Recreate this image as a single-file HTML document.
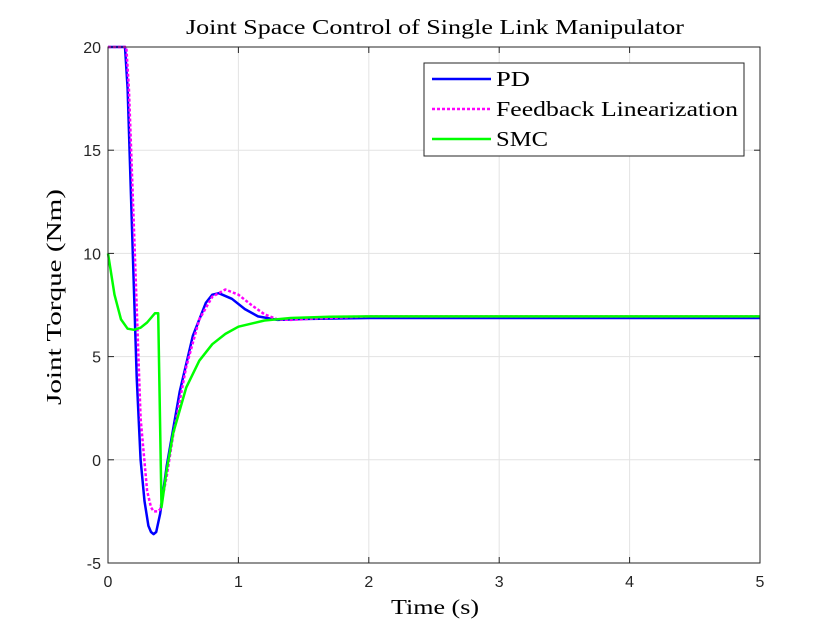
<!DOCTYPE html>
<html><head><meta charset="utf-8"><style>
body{margin:0;background:#fff;}
svg text{font-family:"Liberation Sans",sans-serif;}
.serif{font-family:"Liberation Serif",serif;}
</style></head><body>
<svg id="chart" width="840" height="630" viewBox="0 0 840 630" xmlns="http://www.w3.org/2000/svg">
<rect x="0" y="0" width="840" height="630" fill="#fff"/>
<rect x="108" y="47" width="652" height="516" fill="#fff"/>
<g id="grid"></g>
<g id="series"></g>
<rect x="108" y="47" width="652" height="516" fill="none" stroke="#262626" stroke-width="1"/>
<g id="ticks"></g>
<text class="serif" x="186" y="34" font-size="21" textLength="498" lengthAdjust="spacingAndGlyphs" fill="#000">Joint Space Control of Single Link Manipulator</text>
<text class="serif" x="391" y="614" font-size="21" textLength="88" lengthAdjust="spacingAndGlyphs" fill="#000">Time (s)</text>
<text class="serif" x="0" y="0" font-size="21" textLength="216" lengthAdjust="spacingAndGlyphs" fill="#000" transform="translate(61 405) rotate(-90)">Joint Torque (Nm)</text>
<g>
<rect x="424" y="63" width="320" height="93" fill="#fff" stroke="#262626" stroke-width="1"/>
<line x1="432" y1="79" x2="491" y2="79" stroke="#0000ff" stroke-width="2.5"/>
<text class="serif" x="496" y="86" font-size="21" textLength="34" lengthAdjust="spacingAndGlyphs">PD</text>
<line x1="432" y1="109" x2="491" y2="109" stroke="#ff00ff" stroke-width="2.5" stroke-dasharray="3,2"/>
<text class="serif" x="496" y="116" font-size="21" textLength="242" lengthAdjust="spacingAndGlyphs">Feedback Linearization</text>
<line x1="432" y1="139" x2="491" y2="139" stroke="#00ff00" stroke-width="2.5"/>
<text class="serif" x="496" y="146" font-size="21" textLength="52" lengthAdjust="spacingAndGlyphs">SMC</text>
</g>
</svg>
<script>
const xTicks=[0,1,2,3,4,5];
const yTicks=[-5,0,5,10,15,20];
const pdT=[0,0.13,0.15,0.18,0.2,0.22,0.25,0.28,0.31,0.33,0.35,0.37,0.4,0.45,0.55,0.65,0.75,0.8,0.85,0.95,1.05,1.15,1.3,1.5,2,5];
const pdV=[20,20,18,12,8,4,0,-2,-3.2,-3.5,-3.6,-3.5,-2.6,-0.3,3.3,6,7.6,8,8.07,7.8,7.3,6.95,6.78,6.82,6.87,6.87];
const flT=[0,0.14,0.16,0.2,0.25,0.3,0.33,0.35,0.38,0.4,0.45,0.5,0.6,0.7,0.8,0.9,1,1.1,1.2,1.3,1.4,1.6,2,5];
const flV=[20,20,18,11,2,-1.5,-2.3,-2.5,-2.5,-2.4,-0.8,1.2,4.5,6.8,7.9,8.25,8,7.5,7.05,6.8,6.78,6.85,6.95,6.95];
const smcT=[0,0.05,0.1,0.15,0.2,0.25,0.3,0.36,0.385,0.41,0.45,0.5,0.6,0.7,0.8,0.9,1,1.2,1.4,1.7,2,5];
const smcV=[10,8,6.8,6.35,6.3,6.4,6.65,7.1,7.1,-2.3,-0.5,1.3,3.5,4.8,5.6,6.1,6.45,6.75,6.87,6.93,6.95,6.95];
const NS='http://www.w3.org/2000/svg';
const X0=108,X1=760,Y0=563,Y1=47;
const sx=t=>X0+(t-0)/(5-0)*(X1-X0);
const sy=v=>Y0-(v-(-5))/(20-(-5))*(Y0-Y1);
const grid=document.getElementById('grid'),ticks=document.getElementById('ticks'),ser=document.getElementById('series');
function mk(tag,a,p){const e=document.createElementNS(NS,tag);for(const k in a)e.setAttribute(k,a[k]);p.appendChild(e);return e;}
xTicks.forEach(t=>{
 const g=mk('line',{x1:sx(t),x2:sx(t),y1:Y1,y2:Y0,stroke:'#e3e3e3','stroke-width':1},grid);
 
 
 mk('line',{x1:sx(t),x2:sx(t),y1:Y0,y2:Y0-6,stroke:'#262626'},ticks);
 mk('line',{x1:sx(t),x2:sx(t),y1:Y1,y2:Y1+6,stroke:'#262626'},ticks);
 const l=mk('text',{x:sx(t),y:Y0+24,'font-size':16,'text-anchor':'middle',fill:'#262626'},ticks);
 l.textContent=t;
 
 
});
yTicks.forEach(v=>{
 const g=mk('line',{x1:X0,x2:X1,y1:sy(v),y2:sy(v),stroke:'#e3e3e3','stroke-width':1},grid);
 
 
 mk('line',{x1:X0,x2:X0+6,y1:sy(v),y2:sy(v),stroke:'#262626'},ticks);
 mk('line',{x1:X1,x2:X1-6,y1:sy(v),y2:sy(v),stroke:'#262626'},ticks);
 const l=mk('text',{x:X0-7,y:sy(v)+6,'font-size':16,'text-anchor':'end',fill:'#262626'},ticks);
 l.textContent=v;
 
 
});
function line(T,V,color,dash,name){
 const pts=T.map((t,i)=>sx(t).toFixed(1)+','+sy(V[i]).toFixed(1)).join(' ');
 const a={points:pts,fill:'none',stroke:color,'stroke-width':2.5,'stroke-linejoin':'round'};
 if(dash)a['stroke-dasharray']=dash;
 const p=mk('polyline',a,ser);
 
 
}
line(pdT,pdV,'#0000ff',null,'pd-line');
line(flT,flV,'#ff00ff','3,2','feedback-linearization-line');
line(smcT,smcV,'#00ff00',null,'smc-line');
</script>
</body></html>
